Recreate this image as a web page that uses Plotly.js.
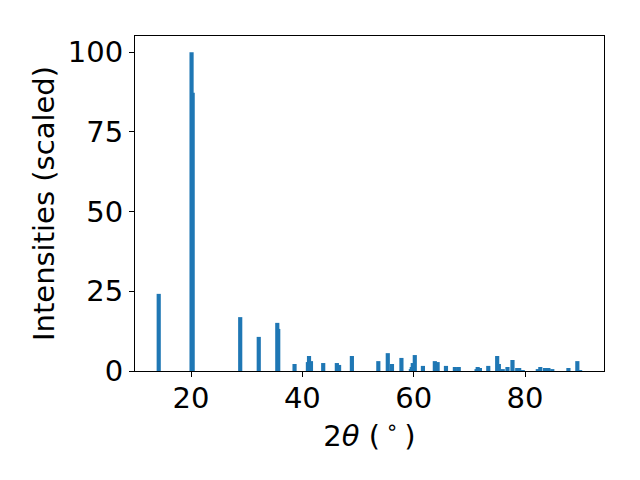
<!DOCTYPE html>
<html>
<head>
<meta charset="utf-8">
<script src="https://cdn.plot.ly/plotly-3.0.1.min.js"></script>
<style>html,body{margin:0;padding:0;background:#fff;}#chart{width:640px;height:480px;}</style>
</head>
<body>
<div id="chart"></div>
<script>
const twoTheta = [14.2, 20.1, 20.3, 28.84, 32.17, 35.5, 35.67, 38.6, 41.0, 41.2, 41.55, 43.75, 46.2, 46.6, 48.9,
  53.65, 55.35, 56.1, 57.8, 59.5, 59.66, 59.84, 60.2, 61.66, 63.8, 64.3, 65.8, 67.4, 68.1,
  71.3, 71.5, 71.9, 73.4, 75.0, 75.3, 76.0, 76.85, 77.75, 78.6, 78.95, 79.6,
  82.3, 82.75, 83.6, 84.2, 84.9, 87.8, 89.4, 89.9];
const intensities = [24.2, 100, 87.3, 16.9, 10.7, 15.1, 13.2, 2.2, 2.8, 4.7, 3.1, 2.5, 2.5, 1.9, 4.7,
  3.1, 5.6, 2.2, 4.1, 0.6, 1.25, 2.5, 5.0, 1.6, 3.1, 2.8, 1.6, 1.25, 1.25,
  0.6, 1.25, 0.95, 1.6, 4.7, 2.2, 0.6, 1.25, 3.45, 0.95, 0.95, 0.3,
  0.6, 1.25, 0.95, 0.95, 0.6, 0.95, 3.1, 0.3];
const xTicks = [20, 40, 60, 80];
const yTicks = [0, 25, 50, 75, 100];

const font = {family: 'DejaVu Sans', size: 29, color: '#000'};
const trace = {
  type: 'bar',
  x: twoTheta,
  y: intensities,
  width: twoTheta.map(() => 0.75),
  marker: {color: '#1f77b4', line: {width: 0}},
  hoverinfo: 'skip'
};
const layout = {
  width: 640, height: 480,
  margin: {l: 135, r: 36, t: 36, b: 109, pad: 0},
  paper_bgcolor: '#fff', plot_bgcolor: '#fff',
  showlegend: false,
  barmode: 'overlay',
  font: font,
  xaxis: {
    range: [9.94, 94.19],
    tickvals: xTicks, ticktext: xTicks.map(String),
    ticks: 'outside', ticklen: 5, tickwidth: 1, tickcolor: '#000',
    ticklabelstandoff: -4,
    showline: true, linecolor: '#000', linewidth: 1, mirror: true,
    showgrid: false, zeroline: false,
    tickfont: font,
    title: {text: '2<i>θ</i> (\u2009<sup>∘</sup>\u2009)', font: font, standoff: 0}
  },
  yaxis: {
    range: [0, 105.1],
    tickvals: yTicks, ticktext: yTicks.map(String),
    ticks: 'outside', ticklen: 5, tickwidth: 1, tickcolor: '#000',
    showline: true, linecolor: '#000', linewidth: 1, mirror: true,
    showgrid: false, zeroline: false,
    tickfont: font,
    title: {text: 'Intensities (scaled)', font: font, standoff: 4}
  }
};
Plotly.newPlot('chart', [trace], layout, {displayModeBar: false, staticPlot: true});
</script>
</body>
</html>
